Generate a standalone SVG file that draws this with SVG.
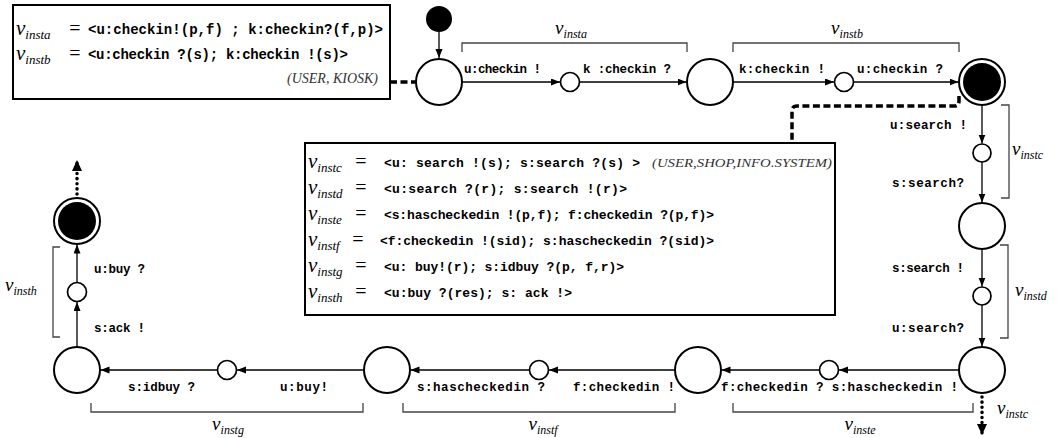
<svg xmlns="http://www.w3.org/2000/svg" width="1058" height="438" viewBox="0 0 1058 438">
  <style>
    .n { fill: #fff; stroke: #000; stroke-width: 2; }
    .s { fill: #fff; stroke: #000; stroke-width: 1.7; }
    .blk { fill: #000; }
    .e { fill: none; stroke: #000; stroke-width: 1.3; marker-end: url(#ah); }
    .dot { fill: none; stroke: #000; stroke-width: 3.5; stroke-linecap: round; stroke-dasharray: 0.1 5; marker-end: url(#ahb); }
    .dash { fill: none; stroke: #000; stroke-width: 3.5; stroke-dasharray: 7 3.5; }
    .br { fill: none; stroke: #444; stroke-width: 1.3; }
    .box { fill: #fff; stroke: #000; stroke-width: 2; }
    .lb { font-family: "Liberation Mono", "DejaVu Sans Mono", monospace; font-size: 12.5px; font-weight: bold; fill: #000; }
    .bt { font-family: "Liberation Mono", "DejaVu Sans Mono", monospace; font-size: 13px; font-weight: bold; fill: #000; }
    .bt14 { font-size: 14px; }
    .m { font-family: "Liberation Serif", "DejaVu Serif", serif; font-style: italic; font-size: 19px; fill: #000; }
    .sub { font-size: 12px; }
    .mb { font-size: 21px; }
    .mb .sub { font-size: 13px; }
    .eq { font-family: "Liberation Serif", "DejaVu Serif", serif; font-size: 20px; fill: #000; }
    .it { font-family: "Liberation Serif", "DejaVu Serif", serif; font-style: italic; fill: #333; }
  </style>
  <defs>
    <marker id="ah" markerUnits="userSpaceOnUse" markerWidth="10" markerHeight="8" refX="9" refY="3.5" orient="auto">
      <path d="M0,0 L9,3.5 L0,7 z" fill="#000"/>
    </marker>
    <marker id="ahb" markerUnits="userSpaceOnUse" markerWidth="12" markerHeight="11" refX="11" refY="5" orient="auto">
      <path d="M0,0 L11,5 L0,10 z" fill="#000"/>
    </marker>
  </defs>

  <!-- definition boxes -->
  <g id="box-checkin">
    <rect class="box" x="13" y="5" width="377" height="94"/>
    <text class="m mb" x="16" y="35">v<tspan class="sub" dy="4">insta</tspan></text>
    <text class="eq" x="75" y="35" text-anchor="middle">=</text>
    <text class="bt bt14" x="88" y="34" textLength="295">&lt;u:checkin!(p,f) ; k:checkin?(f,p)&gt;</text>
    <text class="m mb" x="16" y="60">v<tspan class="sub" dy="4">instb</tspan></text>
    <text class="eq" x="75" y="60" text-anchor="middle">=</text>
    <text class="bt bt14" x="88" y="59" textLength="260">&lt;u:checkin ?(s); k:checkin !(s)&gt;</text>
    <text class="it" x="378" y="83" text-anchor="end" font-size="14">(USER, KIOSK)</text>
  </g>

  <g id="box-shop">
    <rect class="box" x="305" y="143" width="530" height="172"/>
    <text class="m mb" x="308" y="168">v<tspan class="sub" dy="4">instc</tspan></text>
    <text class="eq" x="361" y="168" text-anchor="middle">=</text>
    <text class="bt" x="384" y="167" textLength="256">&lt;u: search !(s); s:search ?(s) &gt;</text>
    <text class="it" x="832" y="167" text-anchor="end" font-size="12.5" textLength="180" lengthAdjust="spacingAndGlyphs">(USER,SHOP,INFO.SYSTEM)</text>
    <text class="m mb" x="308" y="194">v<tspan class="sub" dy="4">instd</tspan></text>
    <text class="eq" x="361" y="194" text-anchor="middle">=</text>
    <text class="bt" x="384" y="193" textLength="243">&lt;u:search ?(r); s:search !(r)&gt;</text>
    <text class="m mb" x="308" y="220">v<tspan class="sub" dy="4">inste</tspan></text>
    <text class="eq" x="361" y="220" text-anchor="middle">=</text>
    <text class="bt" x="384" y="219" textLength="330">&lt;s:hascheckedin !(p,f); f:checkedin ?(p,f)&gt;</text>
    <text class="m mb" x="308" y="246">v<tspan class="sub" dy="4">instf</tspan></text>
    <text class="eq" x="358" y="246" text-anchor="middle">=</text>
    <text class="bt" x="380" y="245" textLength="334">&lt;f:checkedin !(sid); s:hascheckedin ?(sid)&gt;</text>
    <text class="m mb" x="308" y="272">v<tspan class="sub" dy="4">instg</tspan></text>
    <text class="eq" x="361" y="272" text-anchor="middle">=</text>
    <text class="bt" x="384" y="271" textLength="240">&lt;u: buy!(r); s:idbuy ?(p, f,r)&gt;</text>
    <text class="m mb" x="308" y="298">v<tspan class="sub" dy="4">insth</tspan></text>
    <text class="eq" x="361" y="298" text-anchor="middle">=</text>
    <text class="bt" x="384" y="297" textLength="188">&lt;u:buy ?(res); s: ack !&gt;</text>
  </g>

  <!-- states -->
  <g id="init"><circle class="blk" cx="439" cy="19" r="13"/></g>
  <g id="n1"><circle class="n" cx="439" cy="82" r="23"/></g>
  <g id="s1"><circle class="s" cx="570" cy="82" r="9.5"/></g>
  <g id="n2"><circle class="n" cx="710" cy="82" r="23"/></g>
  <g id="s2"><circle class="s" cx="844" cy="82" r="9.5"/></g>
  <g id="n3"><circle class="n" cx="982" cy="82" r="23"/><circle class="blk" cx="982" cy="82" r="19"/></g>
  <g id="s3"><circle class="s" cx="982" cy="153" r="9"/></g>
  <g id="n4"><circle class="n" cx="982" cy="226" r="23"/></g>
  <g id="s4"><circle class="s" cx="982" cy="296" r="9"/></g>
  <g id="n5"><circle class="n" cx="982" cy="370" r="23"/></g>
  <g id="s5"><circle class="s" cx="829" cy="370" r="9.5"/></g>
  <g id="n6"><circle class="n" cx="698" cy="370" r="23"/></g>
  <g id="s6"><circle class="s" cx="539" cy="370" r="9.5"/></g>
  <g id="n7"><circle class="n" cx="387" cy="370" r="23"/></g>
  <g id="s7"><circle class="s" cx="227" cy="370" r="9.5"/></g>
  <g id="n8"><circle class="n" cx="77" cy="370" r="23"/></g>
  <g id="s8"><circle class="s" cx="77" cy="292" r="9.5"/></g>
  <g id="n9"><circle class="n" cx="77" cy="221" r="23"/><circle class="blk" cx="77" cy="221" r="19"/></g>

  <!-- transitions -->
  <g id="connectors">
    <line class="e" x1="439" y1="32" x2="439" y2="58"/>
    <line class="e" x1="462" y1="82" x2="560" y2="82"/>
    <line class="e" x1="579.5" y1="82" x2="686.5" y2="82"/>
    <line class="e" x1="733" y1="82" x2="834" y2="82"/>
    <line class="e" x1="853.5" y1="82" x2="958.5" y2="82"/>
    <line class="e" x1="982" y1="105" x2="982" y2="143.5"/>
    <line class="e" x1="982" y1="162" x2="982" y2="202.5"/>
    <line class="e" x1="982" y1="249" x2="982" y2="286.5"/>
    <line class="e" x1="982" y1="305" x2="982" y2="346.5"/>
    <line class="dot" x1="982" y1="397" x2="982" y2="435"/>
    <line class="e" x1="959" y1="370" x2="839" y2="370"/>
    <line class="e" x1="819.5" y1="370" x2="721.5" y2="370"/>
    <line class="e" x1="675" y1="370" x2="549" y2="370"/>
    <line class="e" x1="529.5" y1="370" x2="410.5" y2="370"/>
    <line class="e" x1="364" y1="370" x2="237" y2="370"/>
    <line class="e" x1="217.5" y1="370" x2="100.5" y2="370"/>
    <line class="e" x1="77" y1="347" x2="77" y2="302"/>
    <line class="e" x1="77" y1="282.5" x2="77" y2="244.5"/>
    <line class="dot" x1="77" y1="194" x2="77" y2="160"/>
    <line class="dash" x1="390" y1="82" x2="416" y2="82"/>
    <path class="dash" d="M959,96 L959,101 Q959,106 954,106 L797,106 Q792,106 792,111 L792,143"/>
  </g>

  <!-- transition labels -->
  <g id="labels">
    <text class="lb" x="464" y="73" textLength="77">u:checkin !</text>
    <text class="lb" x="583" y="73" textLength="88">k :checkin ?</text>
    <text class="lb" x="739" y="73" textLength="86">k:checkin !</text>
    <text class="lb" x="857" y="73" textLength="86">u:checkin ?</text>
    <text class="lb" x="890" y="129" textLength="77">u:search !</text>
    <text class="lb" x="892" y="187" textLength="72">s:search?</text>
    <text class="lb" x="892" y="272" textLength="72">s:search !</text>
    <text class="lb" x="892" y="332" textLength="72">u:search?</text>
    <text class="lb" x="721" y="391" textLength="237">f:checkedin ? s:hascheckedin !</text>
    <text class="lb" x="417" y="391" textLength="128">s:hascheckedin ?</text>
    <text class="lb" x="573" y="391" textLength="102">f:checkedin !</text>
    <text class="lb" x="128" y="391" textLength="67">s:idbuy ?</text>
    <text class="lb" x="280" y="391" textLength="48">u:buy!</text>
    <text class="lb" x="94" y="273" textLength="51">u:buy ?</text>
    <text class="lb" x="94" y="332" textLength="51">s:ack !</text>
  </g>

  <!-- instance brackets -->
  <g id="brackets">
    <path class="br" d="M462,52 L462,43 L687,43 L687,52"/>
    <text class="m" x="571" y="34" text-anchor="middle">v<tspan class="sub" dy="4">insta</tspan></text>
    <path class="br" d="M733,52 L733,43 L959,43 L959,52"/>
    <text class="m" x="847" y="34" text-anchor="middle">v<tspan class="sub" dy="4">instb</tspan></text>
    <path class="br" d="M1001,105 L1009,105 L1009,198 L1001,198"/>
    <text class="m" x="1012" y="155">v<tspan class="sub" dy="4">instc</tspan></text>
    <path class="br" d="M1000,245 L1008,245 L1008,338 L1000,338"/>
    <text class="m" x="1015" y="296">v<tspan class="sub" dy="4">instd</tspan></text>
    <path class="br" d="M91,403 L91,412 L363,412 L363,403"/>
    <text class="m" x="228" y="430" text-anchor="middle">v<tspan class="sub" dy="4">instg</tspan></text>
    <path class="br" d="M403,403 L403,412 L675,412 L675,403"/>
    <text class="m" x="543" y="430" text-anchor="middle">v<tspan class="sub" dy="4">instf</tspan></text>
    <path class="br" d="M733,403 L733,412 L973,412 L973,403"/>
    <text class="m" x="860" y="430" text-anchor="middle">v<tspan class="sub" dy="4">inste</tspan></text>
    <text class="m" x="997" y="414">v<tspan class="sub" dy="4">instc</tspan></text>
    <path class="br" d="M60,247 L53,247 L53,337 L60,337"/>
    <text class="m" x="5" y="291">v<tspan class="sub" dy="4">insth</tspan></text>
  </g>
</svg>
